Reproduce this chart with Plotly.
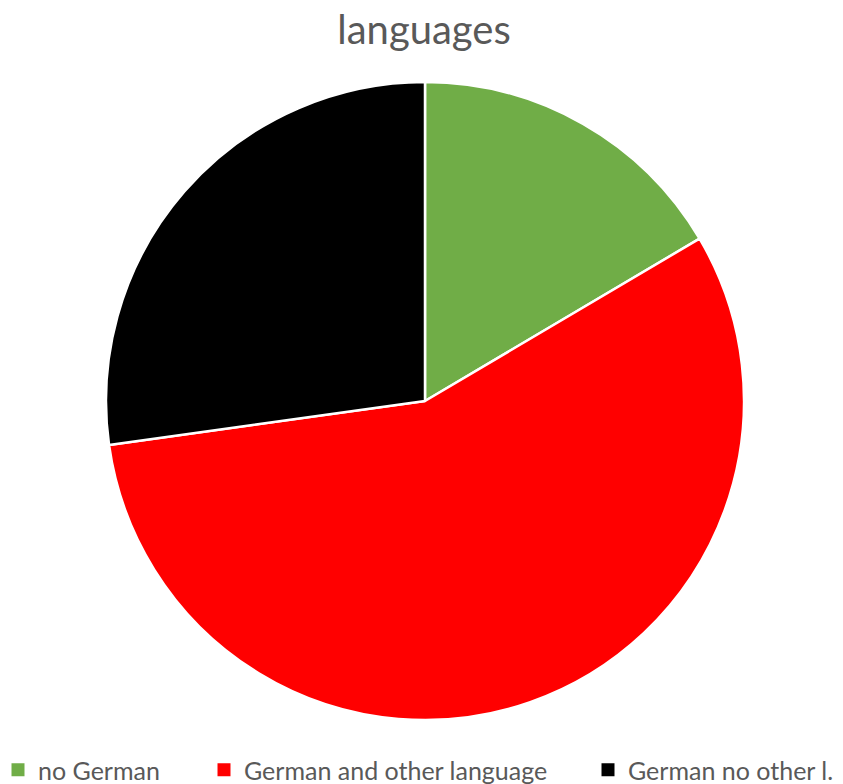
import plotly.graph_objects as go

labels = ["no German", "German and other language", "German no other l."]
values = [16.5, 56.3, 27.2]
colors = ["#70AD47", "#FF0000", "#000000"]

W, H = 843, 784
legend_ids = ["legend", "legend2", "legend3"]
legend_x_px = [-2, 204, 588]

fig = go.Figure(go.Pie(
    labels=labels, values=values, sort=False, direction="clockwise", rotation=0,
    marker=dict(colors=colors, line=dict(color="white", width=2.5)),
    textinfo="none", hoverinfo="label+percent", showlegend=False,
    domain=dict(x=[106 / W, 744 / W], y=[1 - 720 / H, 1 - 82 / H]),
))

# legend entries (one per slice), placed in separate legends to match spacing
for lab, col, lid in zip(labels, colors, legend_ids):
    fig.add_trace(go.Scatter(
        x=[None], y=[None], mode="markers", name=lab, legend=lid,
        marker=dict(symbol="square", size=13, color=col), hoverinfo="skip",
    ))

legend_font = dict(family="Lato, Open Sans, sans-serif", size=25, color="#595959")
legend_layout = {}
for lid, xp in zip(legend_ids, legend_x_px):
    legend_layout[lid] = dict(orientation="h", x=xp / W, xanchor="left",
                              y=-9 / H, yanchor="bottom", font=legend_font,
                              bgcolor="rgba(0,0,0,0)")

fig.update_layout(
    width=W, height=H,
    margin=dict(l=0, r=0, t=0, b=0, autoexpand=False),
    paper_bgcolor="white", plot_bgcolor="white",
    xaxis=dict(visible=False), yaxis=dict(visible=False),
    title=dict(text="languages", x=0.503, xanchor="center", y=1 - 30 / H, yanchor="middle",
               font=dict(family="Lato, Open Sans, sans-serif", size=40, color="#595959")),
    **legend_layout,
)

fig.write_html("out.html")
